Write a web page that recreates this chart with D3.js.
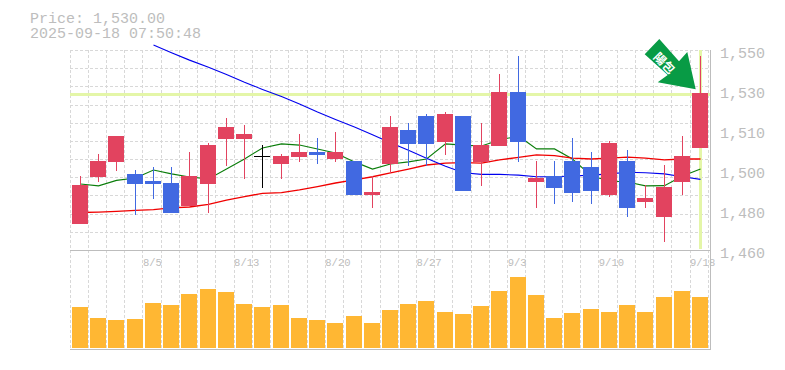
<!DOCTYPE html>
<html>
<head>
<meta charset="utf-8">
<script src="https://cdnjs.cloudflare.com/ajax/libs/d3/7.8.5/d3.min.js"></script>
<style>
html,body{margin:0;padding:0;background:#fff;overflow:hidden}
svg{display:block}
text{font-family:"Liberation Mono",monospace}
</style>
</head>
<body>
<svg id="chart" width="785" height="370"></svg>
<script>
const dates = ["7/30","7/31","8/1","8/4","8/5","8/6","8/7","8/8","8/12","8/13","8/14","8/15","8/18","8/19","8/20","8/21","8/22","8/25","8/26","8/27","8/28","8/29","9/1","9/2","9/3","9/4","9/5","9/8","9/9","9/10","9/11","9/12","9/16","9/17","9/18"];
const open  = [1475.4,1495,1501.3,1496.3,1493.3,1492.5,1482.9,1492.1,1510.8,1510.8,1503.8,1500.4,1503.3,1505.4,1502.5,1501.7,1487.5,1500.4,1514.6,1520.4,1509.6,1520.4,1501.3,1507.9,1530.4,1492.9,1495.4,1501.7,1499.2,1487.5,1501.7,1484.6,1478.3,1492.9,1507.1];
const high  = [1495.4,1504.6,1512.1,1497.9,1499.2,1499.2,1505.4,1509.2,1519.6,1516.7,1508.3,1504.6,1512.9,1511.3,1513.8,1501.7,1495.4,1520.4,1517.5,1521.3,1522.1,1520.4,1517.5,1537.9,1545.4,1501.7,1501.7,1511.3,1505.4,1510,1506.3,1491.7,1500,1512.1,1545.4];
const low   = [1475.4,1492.9,1497.5,1479.2,1485.8,1480,1482.9,1480,1499.6,1494.2,1490.4,1494.2,1501.3,1500.4,1501.3,1487.5,1482.1,1496.7,1499.6,1499.6,1504.2,1489.2,1491.3,1507.9,1501.3,1482.1,1483.8,1484.6,1483.8,1486.7,1478.3,1482.1,1467.9,1487.5,1507.1];
const close = [1491.7,1501.7,1512.1,1492.1,1492.1,1480,1495.4,1508.3,1515.8,1512.9,1503.8,1503.8,1505.4,1504.2,1505.4,1487.5,1488.8,1515.8,1508.8,1508.8,1521.3,1489.2,1508.3,1530.4,1509.6,1494.6,1490.4,1488.3,1489.2,1509.2,1482.1,1486.3,1490.8,1503.8,1530];
const maGreen = [1492.1,1491.3,1493.6,1494.6,1497.9,1496.3,1495,1494.2,1498.3,1502.5,1507.1,1508.8,1508.3,1506.7,1505,1501.3,1498.3,1500.4,1501.3,1502.5,1508.8,1508.3,1507.9,1510.4,1512.1,1506.7,1506.7,1502.5,1495.4,1493.3,1492.9,1491.3,1491.4,1495.4,1498.3];
const maRed = [1480.2,1480.4,1480.7,1481.1,1481.4,1482.1,1482.5,1483.6,1485.4,1486.8,1488.2,1488.5,1489.6,1491,1492.5,1493.8,1495.1,1496.7,1498.3,1500,1500.8,1501,1500.8,1502.1,1503.2,1504.2,1503.9,1502.9,1502.5,1502.9,1503.3,1502.9,1502.1,1502.5,1502.5];
const maBlue = [null,null,null,null,1550,1546.8,1543.7,1540.7,1537.7,1534.5,1531.5,1528.5,1525.4,1522.1,1519,1515.8,1512.6,1509.3,1506.1,1502.8,1499.5,1496.8,1496.1,1496.1,1495.8,1495.1,1495.1,1495.4,1495.8,1496.3,1497,1496.8,1496.3,1495.1,1494];
const volume = [41,30,28,29,45,43,54,59,56,44,41,43,30,28,25,32,25,38,44,47,36,34,42,57,71,53,30,35,39,36,43,36,51,57,51];
const dateTicks = ["8/5","8/13","8/20","8/27","9/3","9/10","9/18"];
const priceTicks = [1546.67,1530,1513.33,1496.67,1480,1463.33];
const headerLines = ["Price: 1,530.00","2025-09-18 07:50:48"];
const currentPrice = 1530;
const badgeText = "陽包";

const RED="#e2435f", BLUE="#4169e1", GRID="#d8d8d8", AXIS="#bdbdbd", TXT="#bdbdbd", VOL="#ffb733", HL="#e4f6a8", ARROW="#089b45";
const svg=d3.select("#chart");
const x=d3.scaleBand().domain(dates).range([70,708.24]);
const y=d3.scaleLinear().domain([1463.33,1546.67]).range([253,53]);
const yGrid=d3.scaleLinear().domain([0,11]).range([50.5,250.5]);
const yVol=d3.scaleLinear().domain([0,100]).range([348,248]);
const left=d=>Math.round(x(d)+2);
const idx=dates.map((d,i)=>i);

// grid
const gridLayer=svg.append("g").attr("stroke",GRID).attr("stroke-dasharray","3,2").attr("fill","none").attr("shape-rendering","crispEdges");
gridLayer.selectAll("line.v").data(dates).join("line").attr("class","v")
 .attr("x1",d=>Math.floor(x(d))+.5).attr("x2",d=>Math.floor(x(d))+.5).attr("y1",50).attr("y2",350);
gridLayer.append("line").attr("x1",708.5).attr("x2",708.5).attr("y1",50).attr("y2",350);
gridLayer.selectAll("line.h").data(d3.range(0,11)).join("line").attr("class","h")
 .attr("x1",70).attr("x2",710).attr("y1",d=>Math.round(yGrid(d)-.5)+.5).attr("y2",d=>Math.round(yGrid(d)-.5)+.5);

// highlight
const hlY=Math.round(y(currentPrice))+1.5;
const hlX=left(dates[34])+9;
svg.append("line").attr("x1",70).attr("x2",710).attr("y1",hlY).attr("y2",hlY).attr("stroke",HL).attr("stroke-width",3);
svg.append("line").attr("x1",hlX-.5).attr("x2",hlX-.5).attr("y1",50).attr("y2",249).attr("stroke",HL).attr("stroke-width",3);

// axes frame
const frame=svg.append("g").attr("stroke",AXIS).attr("shape-rendering","crispEdges");
frame.append("line").attr("x1",70).attr("x2",711).attr("y1",250.5).attr("y2",250.5);
frame.append("line").attr("x1",70).attr("x2",711).attr("y1",349.5).attr("y2",349.5);
frame.append("line").attr("x1",710.5).attr("x2",710.5).attr("y1",50).attr("y2",350);

// MAs
const lineGen=arr=>d3.line().defined(i=>arr[i]!==null).x(i=>left(dates[i])+8.5).y(i=>y(arr[i]))(idx);
[[maGreen,"#0a7d0a"],[maRed,"#f00000"],[maBlue,"#0000ee"]].forEach(([arr,c],k)=>{
  svg.append("path").attr("d",lineGen(arr)).attr("fill","none").attr("stroke",c).attr("stroke-width",k==1?1.3:1.1);
});

// candles
const colorOf=i=>close[i]>open[i]?RED:(close[i]<open[i]?BLUE:"#000");
const candles=svg.append("g").attr("shape-rendering","crispEdges");
candles.selectAll("rect.w").data(idx).join("rect").attr("class","w")
 .attr("x",i=>left(dates[i])+8).attr("width",1)
 .attr("y",i=>Math.round(y(high[i]))).attr("height",i=>Math.round(y(low[i]))-Math.round(y(high[i])))
 .attr("fill",colorOf);
candles.selectAll("rect.b").data(idx).join("rect").attr("class","b")
 .attr("x",i=>left(dates[i])).attr("width",16)
 .attr("y",i=>Math.round(y(Math.max(open[i],close[i]))))
 .attr("height",i=>Math.max(1,Math.round(y(Math.min(open[i],close[i])))-Math.round(y(Math.max(open[i],close[i])))))
 .attr("fill",colorOf);

// volume
svg.append("g").attr("shape-rendering","crispEdges").selectAll("rect").data(idx).join("rect")
 .attr("x",i=>left(dates[i])).attr("width",16)
 .attr("y",i=>yVol(volume[i])).attr("height",i=>yVol(0)-yVol(volume[i])).attr("fill",VOL);

// tick labels
svg.append("g").selectAll("text").data(priceTicks).join("text")
 .attr("x",720).attr("y",d=>y(d)+5).attr("font-size",15).attr("fill",TXT)
 .text(d=>d3.format(",")(Math.round(d/10)*10));
svg.append("g").selectAll("text").data(dateTicks).join("text")
 .attr("x",d=>x(d)).attr("y",266).attr("font-size",10.5).attr("fill",TXT)
 .text(d=>d);
svg.append("g").selectAll("text").data(headerLines).join("text")
 .attr("x",30).attr("y",(d,i)=>23+i*15).attr("font-size",15).attr("fill",TXT)
 .text(d=>d);

// arrow badge: anchored on the last candle's top
const tipX=left(dates[34])+3.7, tipY=Math.round(y(currentPrice))-3.7;
const arrowPts=[[-36.4,-50.3],[-51,-35],[-28,-14.3],[-38,-7],[0,0],[-8.4,-37.3],[-16.7,-28]];
svg.append("polygon").attr("points",arrowPts.map(p=>[tipX+p[0],tipY+p[1]].join(",")).join(" ")).attr("fill",ARROW);
svg.append("text").attr("transform",`translate(${tipX-30.5},${tipY-27}) rotate(45)`)
 .attr("text-anchor","middle").attr("dominant-baseline","central")
 .attr("font-size",12).attr("font-weight","bold").attr("fill","#fff")
 .style("font-family",'"Noto Sans CJK JP"').text(badgeText);
</script>
</body>
</html>
